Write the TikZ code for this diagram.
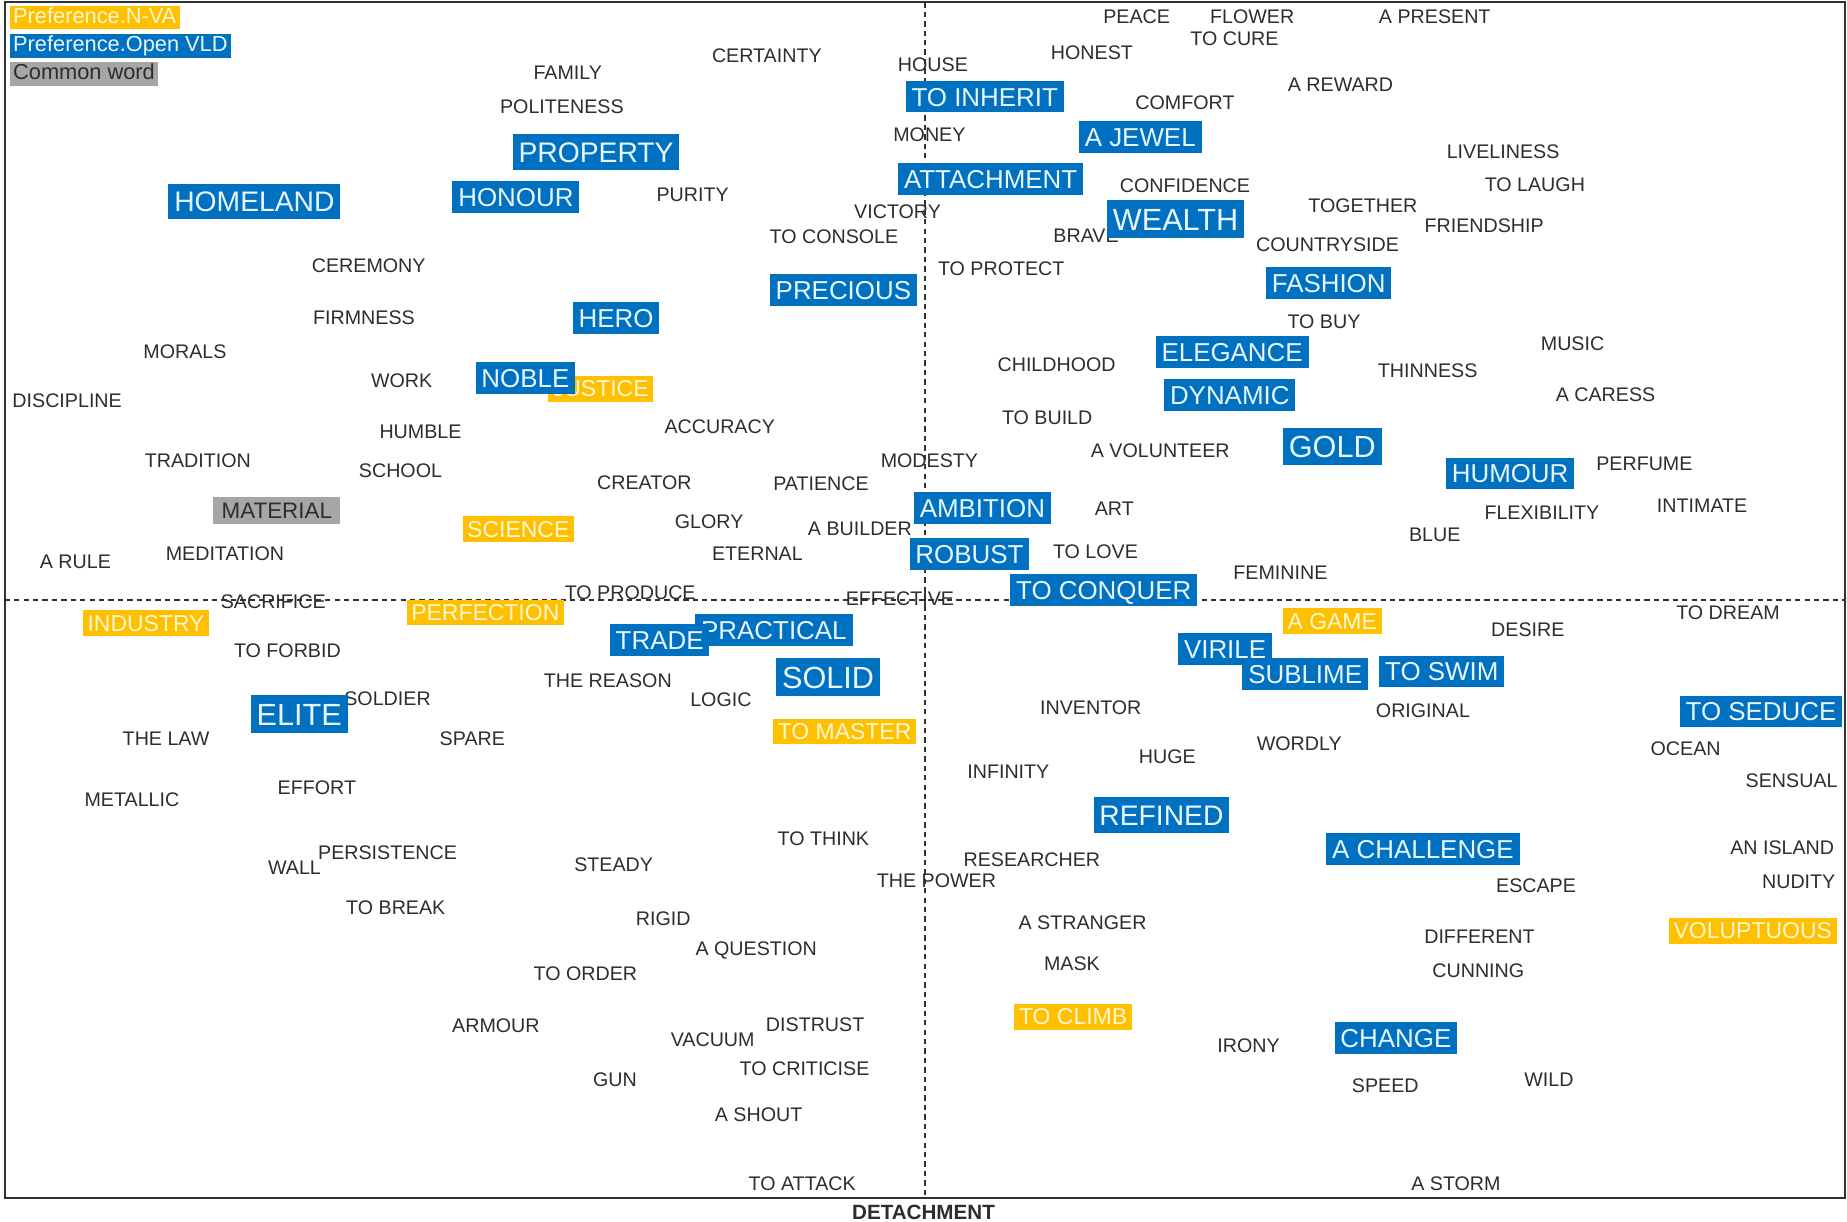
\documentclass[tikz,border=0pt]{standalone}
\usepackage{fontspec}
\setmainfont{Liberation Sans}
\usepackage{xcolor}
\definecolor{vldblue}{RGB}{0,112,192}
\definecolor{vldtext}{RGB}{232,246,255}
\definecolor{nvayellow}{RGB}{255,192,0}
\definecolor{nvatext}{RGB}{255,246,214}
\definecolor{commongray}{RGB}{166,166,166}
\definecolor{wordgray}{RGB}{45,45,45}
\definecolor{framegray}{RGB}{50,50,50}

\begin{document}
\begin{tikzpicture}[x=1pt, y=-1pt,
  word/.style={text=wordgray, inner sep=0pt, font=\fontsize{16.7}{18}\selectfont},
  open/.style={fill=vldblue, text=vldtext, inner xsep=5pt, inner ysep=0pt, minimum height=27pt, text height=16pt, text depth=0pt, font=\fontsize{22}{24}\selectfont},
  openmid/.style={open, minimum height=30pt, text height=17.5pt, font=\fontsize{24}{26}\selectfont},
  openbig/.style={open, minimum height=32pt, text height=19pt, font=\fontsize{26}{28}\selectfont},
  nva/.style={fill=nvayellow, text=nvatext, inner xsep=4pt, inner ysep=0pt, minimum height=22pt, text height=14pt, text depth=0pt, font=\fontsize{19.5}{21}\selectfont},
  common/.style={fill=commongray, text=wordgray, inner xsep=7pt, inner ysep=0pt, minimum height=23pt, text height=14pt, text depth=0pt, font=\fontsize{19}{21}\selectfont},
  legend/.style={anchor=west, inner xsep=3pt, inner ysep=0pt, minimum height=20pt, text height=13pt, text depth=3.5pt, font=\fontsize{18.5}{20}\selectfont},
  axis/.style={framegray, line width=1.6pt, dash pattern=on 4.5pt off 3.5pt}
]
  \useasboundingbox (0,0) rectangle (1568,1037);

  % frame and axes
  \coordinate (nw) at (4,2);
  \coordinate (se) at (1566,1017);
  \coordinate (vtop) at (785,2);
  \coordinate (vbot) at (785,1017);
  \coordinate (hleft) at (4,509);
  \coordinate (hright) at (1566,509);
  \draw[framegray, line width=1.8pt] (nw) rectangle (se);
  \draw[axis] (vtop) -- (vbot);
  \draw[axis] (hleft) -- (hright);

  % legend
  \node[legend, fill=nvayellow, text=nvatext] (legnva) at (8,15) {Preference.N-VA};
  \node[legend, fill=vldblue, text=vldtext] (legvld) at (8,39) {Preference.Open VLD};
  \node[legend, fill=commongray, text=wordgray] (legcommon) at (8,63) {Common word};

  % common words
  \node[word] (peace) at (965,14) {PEACE};
  \node[word] (flower) at (1063,14) {FLOWER};
  \node[word] (present) at (1218,14) {A PRESENT};
  \node[word] (cure) at (1048,33) {TO CURE};
  \node[word] (honest) at (927,45) {HONEST};
  \node[word] (certainty) at (651,47) {CERTAINTY};
  \node[word] (family) at (482,62) {FAMILY};
  \node[word] (house) at (792,55) {HOUSE};
  \node[word] (comfort) at (1006,87) {COMFORT};
  \node[word] (reward) at (1138,72) {A REWARD};
  \node[word] (politeness) at (477,91) {POLITENESS};
  \node[word] (money) at (789,114) {MONEY};
  \node[word] (liveliness) at (1276,129) {LIVELINESS};
  \node[word] (confidence) at (1006,158) {CONFIDENCE};
  \node[word] (laugh) at (1303,157) {TO LAUGH};
  \node[word] (purity) at (588,165) {PURITY};
  \node[word] (victory) at (762,180) {VICTORY};
  \node[word] (together) at (1157,175) {TOGETHER};
  \node[word] (friendship) at (1260,192) {FRIENDSHIP};
  \node[word] (console) at (708,201) {TO CONSOLE};
  \node[word] (brave) at (922,200) {BRAVE};
  \node[word] (countryside) at (1127,208) {COUNTRYSIDE};
  \node[word] (ceremony) at (313,226) {CEREMONY};
  \node[word] (protect) at (850,228) {TO PROTECT};
  \node[word] (firmness) at (309,270) {FIRMNESS};
  \node[word] (buy) at (1124,273) {TO BUY};
  \node[word] (morals) at (157,299) {MORALS};
  \node[word] (music) at (1335,292) {MUSIC};
  \node[word] (childhood) at (897,310) {CHILDHOOD};
  \node[word] (thinness) at (1212,315) {THINNESS};
  \node[word] (work) at (341,323) {WORK};
  \node[word] (discipline) at (57,340) {DISCIPLINE};
  \node[word] (caress) at (1363,335) {A CARESS};
  \node[word] (build) at (889,355) {TO BUILD};
  \node[word] (humble) at (357,367) {HUMBLE};
  \node[word] (accuracy) at (611,362) {ACCURACY};
  \node[word] (volunteer) at (985,383) {A VOLUNTEER};
  \node[word] (tradition) at (168,391) {TRADITION};
  \node[word] (modesty) at (789,391) {MODESTY};
  \node[word] (perfume) at (1396,394) {PERFUME};
  \node[word] (school) at (340,400) {SCHOOL};
  \node[word] (creator) at (547,410) {CREATOR};
  \node[word] (patience) at (697,411) {PATIENCE};
  \node[word] (art) at (946,432) {ART};
  \node[word] (intimate) at (1445,429) {INTIMATE};
  \node[word] (flexibility) at (1309,435) {FLEXIBILITY};
  \node[word] (glory) at (602,443) {GLORY};
  \node[word] (builder) at (730,449) {A BUILDER};
  \node[word] (blue) at (1218,454) {BLUE};
  \node[word] (rule) at (64,477) {A RULE};
  \node[word] (meditation) at (191,470) {MEDITATION};
  \node[word] (eternal) at (643,470) {ETERNAL};
  \node[word] (love) at (930,468) {TO LOVE};
  \node[word] (feminine) at (1087,486) {FEMININE};
  \node[word] (produce) at (535,503) {TO PRODUCE};
  \node[word] (effective) at (764,508) {EFFECTIVE};
  \node[word] (sacrifice) at (232,511) {SACRIFICE};
  \node[word] (dream) at (1467,520) {TO DREAM};
  \node[word] (desire) at (1297,535) {DESIRE};
  \node[word] (forbid) at (244,552) {TO FORBID};
  \node[word] (reason) at (516,578) {THE REASON};
  \node[word] (soldier) at (329,593) {SOLDIER};
  \node[word] (logic) at (612,594) {LOGIC};
  \node[word] (inventor) at (926,601) {INVENTOR};
  \node[word] (original) at (1208,603) {ORIGINAL};
  \node[word] (law) at (141,627) {THE LAW};
  \node[word] (spare) at (401,627) {SPARE};
  \node[word] (wordly) at (1103,631) {WORDLY};
  \node[word] (ocean) at (1431,636) {OCEAN};
  \node[word] (huge) at (991,642) {HUGE};
  \node[word] (infinity) at (856,655) {INFINITY};
  \node[word] (sensual) at (1521,663) {SENSUAL};
  \node[word] (metallic) at (112,679) {METALLIC};
  \node[word] (effort) at (269,669) {EFFORT};
  \node[word] (think) at (699,712) {TO THINK};
  \node[word] (island) at (1513,720) {AN ISLAND};
  \node[word] (persistence) at (329,724) {PERSISTENCE};
  \node[word] (wall) at (250,737) {WALL};
  \node[word] (steady) at (521,734) {STEADY};
  \node[word] (researcher) at (876,730) {RESEARCHER};
  \node[word] (power) at (795,748) {THE POWER};
  \node[word] (escape) at (1304,752) {ESCAPE};
  \node[word] (nudity) at (1527,749) {NUDITY};
  \node[word] (break) at (336,771) {TO BREAK};
  \node[word] (rigid) at (563,780) {RIGID};
  \node[word] (stranger) at (919,783) {A STRANGER};
  \node[word] (different) at (1256,795) {DIFFERENT};
  \node[word] (question) at (642,807) {A QUESTION};
  \node[word] (mask) at (910,818) {MASK};
  \node[word] (order) at (497,827) {TO ORDER};
  \node[word] (cunning) at (1255,824) {CUNNING};
  \node[word] (distrust) at (692,870) {DISTRUST};
  \node[word] (armour) at (421,871) {ARMOUR};
  \node[word] (vacuum) at (605,883) {VACUUM};
  \node[word] (irony) at (1060,888) {IRONY};
  \node[word] (criticise) at (683,907) {TO CRITICISE};
  \node[word] (gun) at (522,917) {GUN};
  \node[word] (speed) at (1176,922) {SPEED};
  \node[word] (wild) at (1315,917) {WILD};
  \node[word] (shout) at (644,946) {A SHOUT};
  \node[word] (attack) at (681,1005) {TO ATTACK};
  \node[word] (storm) at (1236,1005) {A STORM};

  % N-VA words
  \node[nva] (justice) at (510,330) {JUSTICE};
  \node[nva] (science) at (440,449) {SCIENCE};
  \node[nva] (perfection) at (412,520) {PERFECTION};
  \node[nva] (industry) at (124,529) {INDUSTRY};
  \node[nva] (game) at (1131,527) {A GAME};
  \node[nva] (master) at (717,621) {TO MASTER};
  \node[nva] (voluptuous) at (1488,790) {VOLUPTUOUS};
  \node[nva] (climb) at (911,863) {TO CLIMB};

  % Open VLD words
  \node[open] (inherit) at (836,82) {TO INHERIT};
  \node[open] (jewel) at (968,116) {A JEWEL};
  \node[openmid] (property) at (506,129) {PROPERTY};
  \node[open] (attachment) at (841,152) {ATTACHMENT};
  \node[openmid] (homeland) at (216,171) {HOMELAND};
  \node[open] (honour) at (438,167) {HONOUR};
  \node[openbig] (wealth) at (998,186) {WEALTH};
  \node[open] (precious) at (716,246) {PRECIOUS};
  \node[open] (fashion) at (1128,240) {FASHION};
  \node[open] (hero) at (523,270) {HERO};
  \node[open] (elegance) at (1046,299) {ELEGANCE};
  \node[open] (noble) at (446,321) {NOBLE};
  \node[open] (dynamic) at (1044,335) {DYNAMIC};
  \node[openbig] (gold) at (1131,379) {GOLD};
  \node[open] (humour) at (1282,402) {HUMOUR};
  \node[open] (ambition) at (834,431) {AMBITION};
  \node[open] (robust) at (823,470) {ROBUST};
  \node[open] (conquer) at (937,501) {TO CONQUER};
  \node[open] (practical) at (657,535) {PRACTICAL};
  \node[open] (trade) at (560,543) {TRADE};
  \node[open] (virile) at (1040,551) {VIRILE};
  \node[open] (sublime) at (1108,572) {SUBLIME};
  \node[open] (swim) at (1224,570) {TO SWIM};
  \node[openbig] (solid) at (703,575) {SOLID};
  \node[openbig] (elite) at (254,606) {ELITE};
  \node[open] (seduce) at (1495,604) {TO SEDUCE};
  \node[openmid] (refined) at (986,692) {REFINED};
  \node[open] (challenge) at (1208,721) {A CHALLENGE};
  \node[open] (change) at (1185,881) {CHANGE};

  % common word of both
  \node[common] (material) at (235,433) {MATERIAL};

  % axis title
  \node[text=wordgray, inner sep=0pt, font=\fontsize{17.5}{19}\selectfont\bfseries] (detachment) at (784,1029) {DETACHMENT};
\end{tikzpicture}
\end{document}
